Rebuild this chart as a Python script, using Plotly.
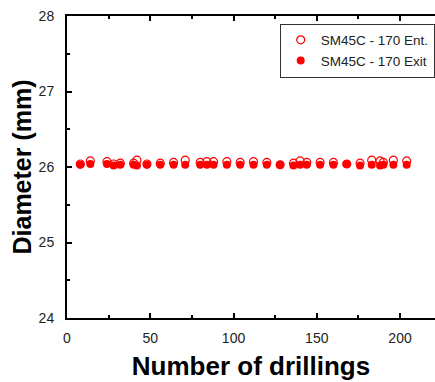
import plotly.graph_objects as go

drillings = [8, 14, 24, 28, 32, 40, 42, 48, 56, 64, 71, 80, 84, 88, 96, 104,
             112, 120, 128, 136, 140, 144, 152, 160, 168, 176, 183, 188, 190, 196, 204]
ent = [26.04, 26.08, 26.07, 26.04, 26.05, 26.05, 26.09, 26.04, 26.05, 26.06, 26.09,
       26.06, 26.07, 26.07, 26.07, 26.06, 26.07, 26.06, 26.03, 26.05, 26.08, 26.06,
       26.06, 26.06, 26.04, 26.05, 26.09, 26.08, 26.06, 26.09, 26.08]
exit_ = [26.03, 26.04, 26.04, 26.02, 26.03, 26.03, 26.02, 26.03, 26.03, 26.03, 26.03,
         26.03, 26.03, 26.03, 26.03, 26.03, 26.03, 26.03, 26.03, 26.02, 26.03, 26.03,
         26.03, 26.03, 26.04, 26.02, 26.03, 26.02, 26.03, 26.03, 26.03]
labels = ["SM45C - 170 Ent.", "SM45C - 170 Exit"]

fig = go.Figure()
fig.add_trace(go.Scatter(x=drillings, y=ent, mode="markers", name=labels[0],
                         marker=dict(symbol="circle-open", size=8, color="#FF0000",
                                     line=dict(width=1.2, color="#FF0000"))))
fig.add_trace(go.Scatter(x=drillings, y=exit_, mode="markers", name=labels[1],
                         marker=dict(symbol="circle", size=8, color="#FF0000",
                                     line=dict(width=0))))

axis_common = dict(showline=True, linecolor="black", linewidth=2, ticks="inside",
                   ticklen=5, tickwidth=2, tickcolor="black", showgrid=False,
                   zeroline=False,
                   tickfont=dict(family="Liberation Sans, Arial", size=14, color="#222"))

fig.update_xaxes(range=[0, 221], tick0=0, dtick=50, mirror="ticks",
                 minor=dict(ticks="inside", ticklen=3, tickwidth=2, tickcolor="black", dtick=25),
                 ticklabelstandoff=6,
                 title=dict(text="<b>Number of drillings</b>", standoff=12,
                            font=dict(family="Liberation Sans, Arial", size=26, color="black")),
                 **axis_common)
fig.update_yaxes(range=[24, 28], tick0=24, dtick=1,
                 minor=dict(ticks="inside", ticklen=3, tickwidth=2, tickcolor="black", dtick=0.5),
                 ticklabelstandoff=8,
                 title=dict(text="<b>Diameter (mm)</b>", standoff=0,
                            font=dict(family="Liberation Sans, Arial", size=25, color="black")),
                 **axis_common)

fig.update_layout(
    width=435, height=382,
    margin=dict(l=67, r=0, t=16, b=64, autoexpand=False),
    plot_bgcolor="white", paper_bgcolor="white",
    showlegend=True,
    legend=dict(x=0.578, y=0.975, xanchor="left", yanchor="top",
                bordercolor="#333", borderwidth=1, bgcolor="white",
                font=dict(family="Liberation Sans, Arial", size=13.5, color="#222"),
                itemwidth=30, tracegroupgap=0),
)

fig.write_html("out.html")
